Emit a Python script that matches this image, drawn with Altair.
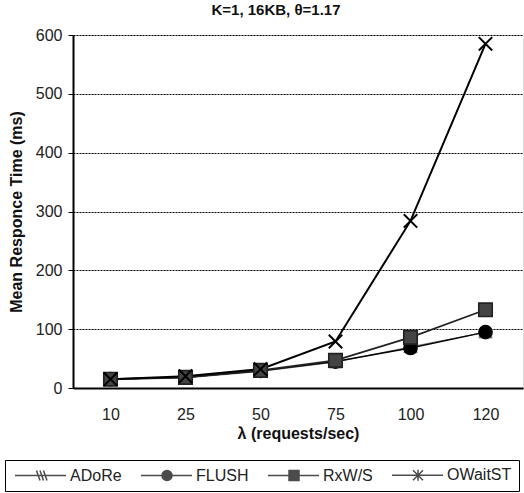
import altair as alt
import pandas as pd

lam = ["10", "25", "50", "75", "100", "120"]
series = ["ADoRe", "FLUSH", "RxW/S", "OWaitST"]
adore = [14, 17, 28, 44, 70, 95]
flush = [15, 18, 29, 45, 68, 95]
rxws = [15, 18, 30, 47, 86, 133]
owaitst = [15, 20, 32, 79, 284, 585]

rows = []
for name, vals in zip(series, [adore, flush, rxws, owaitst]):
    for i, (x, v) in enumerate(zip(lam, vals)):
        rows.append({"lam": x, "series": name, "value": v, "k": series.index(name)})
df = pd.DataFrame(rows)

FONT = "Liberation Sans"
LBL = 16
TTL = 16

x_enc = alt.X("lam:N", sort=lam,
              scale=alt.Scale(paddingInner=0, paddingOuter=0, align=0.5),
              axis=alt.Axis(title="λ (requests/sec)", labelAngle=0, labelFontSize=LBL,
                            labelFont=FONT, titleFont=FONT, titleFontSize=TTL, titleFontWeight="bold",
                            labelColor="#222", titleColor="#111", ticks=False, domain=True,
                            domainColor="#000", domainWidth=2, labelPadding=18, titlePadding=3,
                            grid=False))
y_enc = alt.Y("value:Q",
              scale=alt.Scale(domain=[0, 600], nice=False),
              axis=alt.Axis(title="Mean Responce Time (ms)", values=[0, 100, 200, 300, 400, 500, 600],
                            labelFontSize=LBL, labelFont=FONT, titleFont=FONT, titleFontSize=TTL,
                            titleFontWeight="bold", labelColor="#222", titleColor="#111",
                            tickSize=5, tickColor="#000", domainColor="#000", domainWidth=2,
                            labelPadding=6, titlePadding=11, grid=True, gridColor="#000",
                            gridDash=[2, 1], gridWidth=1))

col_scale = alt.Scale(domain=series, range=["#777777", "#000000", "#222222", "#000000"])
sw_scale = alt.Scale(domain=series, range=[1, 2, 1.5, 2])

X_PATH = "M-1,-1L1,1M-1,1L1,-1"
shape_scale = alt.Scale(domain=series, range=["triangle-up", "circle", "square", X_PATH])
fill_scale = alt.Scale(domain=series, range=["#aaaaaa", "#000000", "#444444", "transparent"])

lines = alt.Chart(df).mark_line().encode(
    x=x_enc, y=y_enc,
    color=alt.Color("series:N", scale=col_scale, legend=None),
    strokeWidth=alt.StrokeWidth("series:N", scale=sw_scale, legend=None),
    detail="series:N",
    order="k:Q",
)

points = alt.Chart(df).mark_point(size=180, opacity=1).encode(
    x=x_enc, y=y_enc,
    shape=alt.Shape("series:N", scale=shape_scale, legend=None),
    fill=alt.Fill("series:N", scale=fill_scale, legend=None),
    stroke=alt.Stroke("series:N", scale=col_scale, legend=None),
    strokeWidth=alt.StrokeWidth("series:N", scale=sw_scale, legend=None),
)


def circ(cx, r=1):
    return f"M{cx - r},0A{r},{r} 0 1,0 {cx + r},0A{r},{r} 0 1,0 {cx - r},0Z"


L0, L1, C = -1, 9.2, 4.2
leg_paths = [
    f"M{L0},0L{L1},0M{C-0.9},-1L{C-0.2},1M{C-0.2},-1L{C+0.5},1M{C+0.5},-1L{C+1.2},1",
    f"M{L0},0L{L1},0" + circ(C),
    f"M{L0},0L{L1},0M{C-1},-1L{C+1},-1L{C+1},1L{C-1},1Z",
    f"M{L0},0L{L1},0M{C-1},-1L{C+1},1M{C-1},1L{C+1},-1M{C},-1.1L{C},1.1",
]
leg_scale = alt.Scale(domain=series, range=leg_paths)

legend_layer = alt.Chart(df).transform_filter("false").mark_point(size=100, filled=True).encode(
    x=x_enc, y=y_enc,
    fill=alt.value("#000"),
    stroke=alt.value("#000"),
    shape=alt.Shape("series:N", scale=leg_scale, sort=series,
                    legend=alt.Legend(title=None, orient="none", direction="horizontal",
                                      legendX=-68, legendY=425, labelFont=FONT, labelFontSize=LBL,
                                      labelColor="#222", symbolStrokeWidth=1.5,
                                      labelOffset=42, columnPadding=16, padding=7,
                                      strokeColor="#000", symbolSize=100)),
)

chart = alt.layer(lines, points, legend_layer).resolve_scale(shape="independent").properties(
    width=450, height=353,
    title=alt.Title("K=1, 16KB, θ=1.17", font=FONT, fontSize=15, fontWeight="bold",
                    color="#111", anchor="middle", dx=-22, offset=9),
    autosize=alt.AutoSizeParams(type="none"),
    padding={"left": 73, "top": 35, "right": 1, "bottom": 105},
).configure_view(stroke=None).configure(background="white")

chart.save("out.html", embed_options={"renderer": "svg", "actions": False})
